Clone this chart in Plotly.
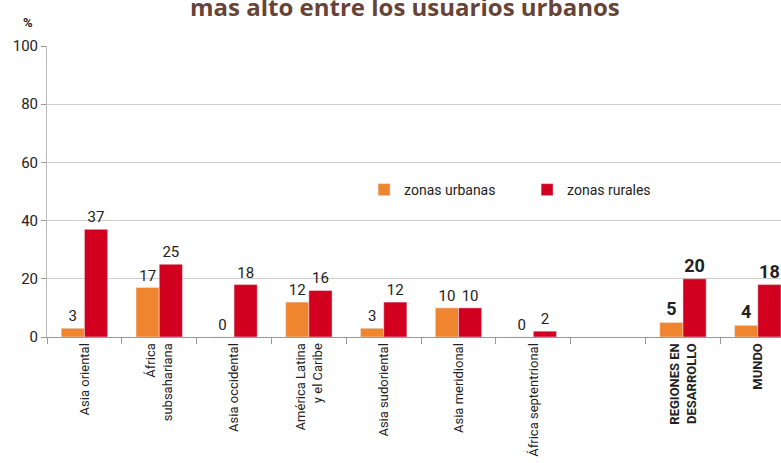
import plotly.graph_objects as go

# datos
regiones = ["Asia oriental", "África<br>subsahariana", "Asia occidental",
            "América Latina<br>y el Caribe", "Asia sudoriental", "Asia meridional",
            "África septentrional", " ", "<b>REGIONES EN<br>DESARROLLO</b>", "<b>MUNDO</b>"]
urbanas = [3, 17, 0, 12, 3, 10, 0, None, 5, 4]
rurales = [37, 25, 18, 16, 12, 10, 2, None, 20, 18]
destacado = [False] * 8 + [True, True]

FONT = "Roboto, sans-serif"
NARANJA = "#F0852F"
ROJO = "#D2001E"


def etiquetas(vals):
    out = []
    for v, b in zip(vals, destacado):
        if v is None:
            out.append("")
        elif b:
            out.append(f"<b>{v}</b>")
        else:
            out.append(str(v))
    return out


def tamanos():
    return [18 if b else 15 for b in destacado]


fig = go.Figure()
fig.add_bar(x=regiones, y=urbanas, name="zonas urbanas", marker_color=NARANJA,
            text=etiquetas(urbanas), textposition="outside", cliponaxis=False,
            textfont=dict(family=FONT, size=tamanos(), color="#222"))
fig.add_bar(x=regiones, y=rurales, name="zonas rurales", marker_color=ROJO,
            text=etiquetas(rurales), textposition="outside", cliponaxis=False,
            textfont=dict(family=FONT, size=tamanos(), color="#222"))

fig.update_layout(
    width=781, height=463,
    margin=dict(l=47, r=0, t=46, b=126, autoexpand=False),
    paper_bgcolor="white", plot_bgcolor="white",
    barmode="group", bargap=0.38, bargroupgap=0,
    font=dict(family=FONT, size=15, color="#222"),
    showlegend=True,
    legend=dict(orientation="h", x=0.432, y=0.505, xanchor="left", yanchor="middle",
                font=dict(family=FONT, size=14, color="#222"),
                entrywidth=118, entrywidthmode="pixels", itemwidth=30,
                bgcolor="rgba(0,0,0,0)"),
)

# chart is cut on the right, like the original
fig.update_xaxes(type="category", categoryorder="array", categoryarray=regiones,
                 range=[-0.5, 9.31], tickangle=-90, tickson="boundaries",
                 ticks="outside", ticklen=6, tickcolor="#999",
                 showline=True, linecolor="#999", linewidth=1,
                 tickfont=dict(family=FONT, size=13, color="#222"),
                 automargin=False)
fig.update_yaxes(range=[0, 100], tickvals=[0, 20, 40, 60, 80, 100],
                 showgrid=True, gridcolor="#cfcfcf", gridwidth=1,
                 showline=True, linecolor="#bbb", ticks="outside", ticklen=5,
                 tickcolor="#999", zeroline=False,
                 tickfont=dict(family=FONT, size=15, color="#222"),
                 automargin=False)

fig.add_annotation(text="<b>mas alto entre los usuarios urbanos</b>",
                   xref="paper", yref="paper", x=0.488, y=1.137,
                   xanchor="center", yanchor="middle", showarrow=False,
                   font=dict(family="Open Sans, sans-serif", size=24, color="#664437"))
fig.add_annotation(text="<b>%</b>", xref="paper", yref="paper", x=-0.026, y=1.082,
                   xanchor="center", yanchor="middle", showarrow=False,
                   font=dict(family=FONT, size=13, color="#222"))

# drop the default body margin so the figure sits at the top-left corner
fig.write_html("out.html", config={"displayModeBar": False},
               post_script="document.body.style.margin='0';document.body.style.overflow='hidden';")
